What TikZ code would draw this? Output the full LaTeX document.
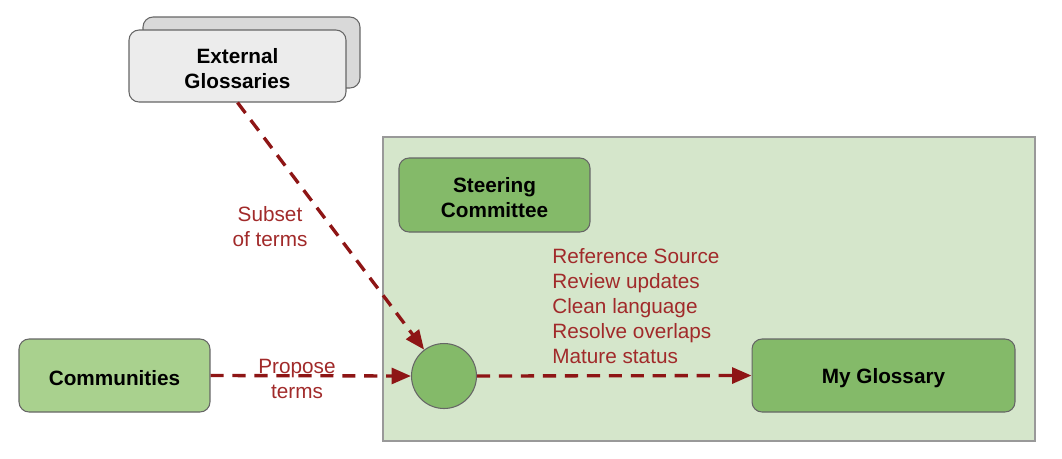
\documentclass[tikz,border=0pt]{standalone}
\usepackage{fontspec}
\setmainfont{Liberation Sans}
\usetikzlibrary{arrows.meta}
\definecolor{arrowred}{HTML}{8E1515}
\definecolor{txtred}{HTML}{A12A2A}
\definecolor{darkgreen}{HTML}{84BA69}
\definecolor{lightgreen}{HTML}{A9D18E}
\definecolor{panelgreen}{HTML}{D5E6CB}
\definecolor{greyfill}{HTML}{ECECEC}
\definecolor{greyback}{HTML}{D9D9D9}
\newcommand{\pushdown}{\rule{0pt}{0.39cm}}
\begin{document}
\begin{tikzpicture}[x=0.02cm,y=-0.02cm,
  every node/.style={font=\fontsize{11.8}{14.2}\selectfont},
  box/.style={draw=black!60, line width=0.6pt, rounded corners=0.2cm, align=center, inner sep=0pt, font=\fontsize{11.8}{14.2}\selectfont\bfseries},
  flow/.style={draw=arrowred, line width=1.9pt, dash pattern=on 7.5pt off 5pt, -{Triangle[length=11pt,width=9pt]}},
  lbl/.style={text=txtred, align=center, inner sep=0pt}]
\useasboundingbox (0,0) rectangle (1062,458);
% panel
\node[draw=black!40, line width=0.8pt, fill=panelgreen, minimum width=13.04cm, minimum height=6.08cm, inner sep=0pt] (panel) at (709,289) {};
% external glossaries (stacked)
\node[box, fill=greyback, minimum width=4.34cm, minimum height=1.42cm] (extback) at (251.5,52.5) {};
\node[box, fill=greyfill, minimum width=4.34cm, minimum height=1.44cm] (ext) at (237.5,66) {\pushdown External\\Glossaries};
% steering committee
\node[box, fill=darkgreen, minimum width=3.82cm, minimum height=1.48cm] (steer) at (494.5,195) {\pushdown Steering\\Committee};
% communities
\node[box, fill=lightgreen, minimum width=3.82cm, minimum height=1.46cm] (comm) at (114.5,375.5) {\pushdown Communities};
% my glossary
\node[box, fill=darkgreen, minimum width=5.26cm, minimum height=1.46cm] (myg) at (883.5,375.5) {\pushdown My Glossary};
% circle hub
\node[draw=black!60, line width=0.6pt, fill=darkgreen, circle, minimum size=1.3cm, inner sep=0pt] (hub) at (444,376) {};
% connectors
\draw[flow] (ext.south) -- (hub);
\draw[flow] (comm.east) -- (hub.west);
\draw[flow] (hub.east) -- (myg.west);
% labels
\node[lbl] (lsub) at (270,227) {Subset\\of terms};
\node[lbl] (lprop) at (297,379) {Propose\\terms};
\node[lbl, align=left, anchor=north west] (lsteps) at (552,248) {Reference Source\\Review updates\\Clean language\\Resolve overlaps\\Mature status};
\end{tikzpicture}
\end{document}
